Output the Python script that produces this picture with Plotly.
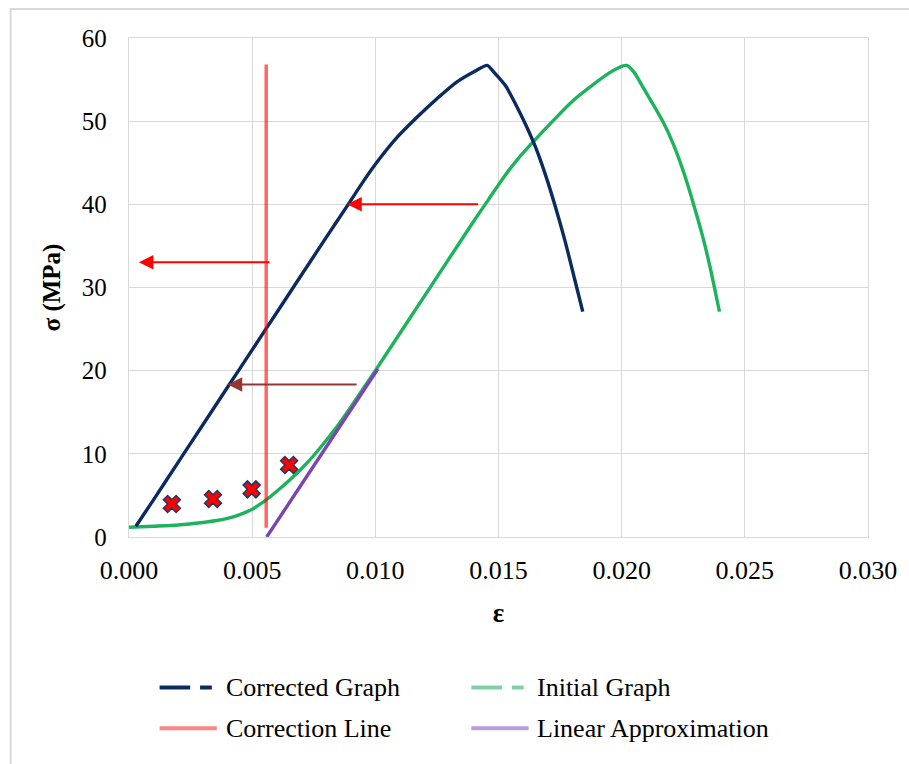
import plotly.graph_objects as go

# ---------------- data ----------------
corr_eps = [0.00028, 0.0010, 0.0020, 0.0030, 0.0040, 0.0050, 0.0060, 0.0070, 0.0080,
            0.0089, 0.0095, 0.0101, 0.0109, 0.0117, 0.0125, 0.0133, 0.0141, 0.01454,
            0.01481, 0.0153, 0.0157, 0.0161, 0.0165, 0.0169, 0.0173, 0.0177,
            0.0181, 0.01842]
corr_sig = [1.3, 4.5, 9.0, 13.5, 18.0, 22.5, 27.0, 31.5, 36.0,
            40.0, 42.7, 45.2, 48.1, 50.5, 52.7, 54.7, 56.1, 56.7,
            55.9, 54.2, 52.0, 49.6, 46.9, 43.6, 39.8, 35.6,
            30.9, 27.1]

init_eps = [0.0000, 0.0010, 0.0020, 0.0030, 0.0035, 0.0040, 0.0045, 0.0050, 0.0055,
            0.0060, 0.0065, 0.0070, 0.0075, 0.0080, 0.0085, 0.0090, 0.0095, 0.0100,
            0.0110, 0.0120, 0.0130, 0.0140, 0.0146, 0.0152, 0.0158, 0.0165, 0.0172,
            0.0180, 0.0188, 0.0195, 0.0200, 0.0202, 0.0205, 0.0209, 0.0213, 0.0217,
            0.0221, 0.0225, 0.0229, 0.0233, 0.0236, 0.02385, 0.02397]
init_sig = [1.17, 1.3, 1.45, 1.75, 1.95, 2.25, 2.7, 3.35, 4.3,
            5.5, 6.8, 8.2, 9.8, 11.6, 13.5, 15.6, 17.8, 20.0,
            24.5, 29.0, 33.5, 38.0, 40.6, 43.2, 45.5, 47.8, 50.0,
            52.4, 54.3, 55.8, 56.6, 56.7, 55.9, 53.9, 51.9, 49.8,
            47.2, 44.0, 40.2, 36.0, 32.3, 28.8, 27.1]

correction_eps = [0.00557, 0.00557]
correction_sig = [1.1, 56.8]

linear_eps = [0.00559, 0.0101]
linear_sig = [0.0, 20.2]

marker_eps = [0.00174, 0.00341, 0.00498, 0.00650]
marker_sig = [3.97, 4.57, 5.73, 8.65]

# arrows: tip / tail positions and colours
arrow_tip_eps = [0.00040, 0.00886, 0.00401]
arrow_tip_sig = [33.05, 40.0, 18.35]
arrow_tail_eps = [0.00577, 0.01423, 0.00930]
arrow_tail_sig = [33.05, 40.0, 18.35]
arrow_colors = ["#FF0000", "#FF0000", "#943634"]

x_ticks = [0.000, 0.005, 0.010, 0.015, 0.020, 0.025, 0.030]
y_ticks = [0, 10, 20, 30, 40, 50, 60]

legend_names = ["Corrected Graph", "Initial Graph", "Correction Line", "Linear Approximation"]

# ---------------- layout constants ----------------
W, H = 909, 764
L, R, T, B = 129, 31, 38, 227
PW, PH = W - L - R, H - T - B
FONT = "Liberation Serif, Times New Roman, serif"


def px(xp):
    return (xp - L) / PW


def py(yp):
    return (H - B - yp) / PH


NAVY = "#0B2A60"
GREEN = "#1DB35C"
PURPLE = "#7A45B0"

fig = go.Figure()

fig.add_trace(go.Scatter(x=init_eps, y=init_sig, mode="lines", name=legend_names[1],
                         line=dict(color=GREEN, width=3.4, shape="spline", smoothing=0.7),
                         showlegend=False))
fig.add_trace(go.Scatter(x=linear_eps, y=linear_sig, mode="lines", name=legend_names[3],
                         line=dict(color=PURPLE, width=3.4), showlegend=False))
fig.add_trace(go.Scatter(x=corr_eps, y=corr_sig, mode="lines", name=legend_names[0],
                         line=dict(color=NAVY, width=3.4, shape="spline", smoothing=0.7),
                         showlegend=False))
fig.add_trace(go.Scatter(x=correction_eps, y=correction_sig, mode="lines", name=legend_names[2],
                         line=dict(color="rgba(255,0,0,0.6)", width=3.5), showlegend=False))
fig.add_trace(go.Scatter(x=marker_eps, y=marker_sig, mode="markers", name="points",
                         marker=dict(symbol="x", size=15, color="#FF0000",
                                     line=dict(color="#1F3864", width=1.5)),
                         showlegend=False))

annotations = []
for te, ts, ae, as_, c in zip(arrow_tip_eps, arrow_tip_sig, arrow_tail_eps, arrow_tail_sig, arrow_colors):
    annotations.append(dict(x=te, y=ts, ax=ae, ay=as_, xref="x", yref="y", axref="x", ayref="y",
                            text="", showarrow=True, arrowhead=2, arrowsize=1.45, arrowwidth=2,
                            arrowcolor=c, standoff=0))

shapes = []
# outer border (only top and left visible)
shapes.append(dict(type="rect", xref="paper", yref="paper",
                   x0=px(9), x1=px(W + 20), y0=py(H + 20), y1=py(9),
                   line=dict(color="#D9D9D9", width=2), fillcolor="rgba(0,0,0,0)", layer="below"))

# manual legend
row_y = [687.5, 728.3]
col_sym = [(160, 218), (476, 534)]
col_txt = [225, 541]
leg_items = [
    (0, 0, "#0B2A60", True),
    (1, 0, "#7FD3A2", True),
    (0, 1, "#FF8585", False),
    (1, 1, "#B39DDB", False),
]
for (ci, ri, col, dashed), name in zip(leg_items, legend_names):
    x0, x1 = col_sym[ci]
    yv = py(row_y[ri])
    if dashed:
        shapes.append(dict(type="line", xref="paper", yref="paper", x0=px(x0), x1=px(x0 + 31),
                           y0=yv, y1=yv, line=dict(color=col, width=4)))
        shapes.append(dict(type="line", xref="paper", yref="paper", x0=px(x0 + 41), x1=px(x0 + 53),
                           y0=yv, y1=yv, line=dict(color=col, width=4)))
    else:
        shapes.append(dict(type="line", xref="paper", yref="paper", x0=px(x0), x1=px(x1),
                           y0=yv, y1=yv, line=dict(color=col, width=4)))
    annotations.append(dict(x=px(col_txt[ci]), y=yv, xref="paper", yref="paper", text=name,
                            showarrow=False, xanchor="left", yanchor="middle",
                            font=dict(family=FONT, size=26, color="#000000")))

fig.update_layout(
    width=W, height=H,
    margin=dict(l=L, r=R, t=T, b=B, pad=0),
    paper_bgcolor="white", plot_bgcolor="white",
    showlegend=False,
    font=dict(family=FONT, size=25, color="#000000"),
    annotations=annotations,
    shapes=shapes,
)
fig.update_xaxes(range=[0, 0.030], tickvals=x_ticks, tickformat=".3f",
                 showgrid=True, gridcolor="#D9D9D9", gridwidth=1.3,
                 showline=True, linecolor="#D9D9D9", linewidth=1.3, mirror=True,
                 zeroline=False, ticks="", ticklabelstandoff=10,
                 tickfont=dict(family=FONT, size=26, color="#000"),
                 title=dict(text="<b>ε</b>", font=dict(family=FONT, size=27, color="#000"), standoff=18))
fig.update_yaxes(range=[0, 60], tickvals=y_ticks,
                 showgrid=True, gridcolor="#D9D9D9", gridwidth=1.3,
                 showline=True, linecolor="#D9D9D9", linewidth=1.3, mirror=True,
                 zeroline=False, ticks="", ticklabelstandoff=16,
                 tickfont=dict(family=FONT, size=25, color="#000"),
                 title=dict(text="<b>σ (MPa)</b>", font=dict(family=FONT, size=25, color="#000"), standoff=14))

fig.write_html("out.html")
